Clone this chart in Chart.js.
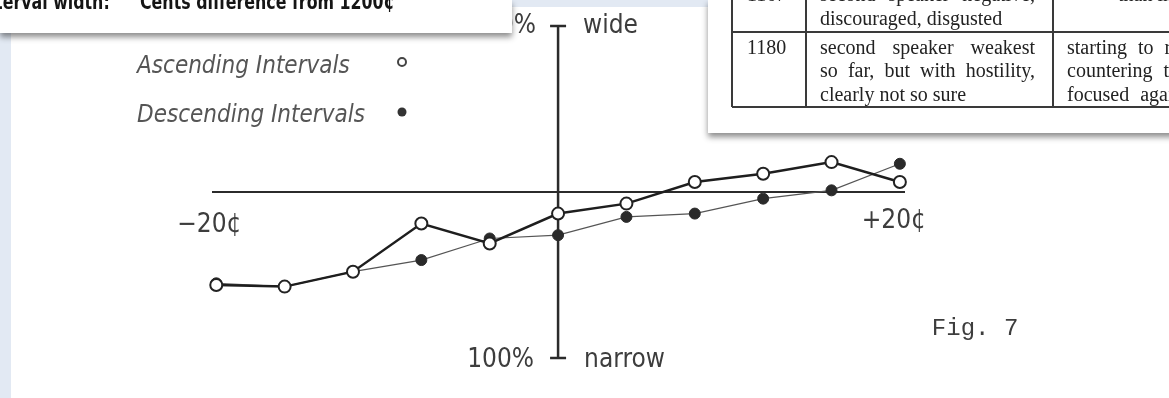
<!DOCTYPE html>
<html lang="en">
<head>
<meta charset="UTF-8">
<title>Fig. 7</title>
<script src="https://cdn.jsdelivr.net/npm/chart.js"></script>
<style>
  html, body { margin: 0; padding: 0; }
  body { width: 1169px; height: 398px; position: relative; overflow: hidden; background: #e2e9f3; }
  #papel { position: absolute; left: 11px; top: 7px; right: 0; bottom: 0; background: #fff; }
  #myChart { position: absolute; left: 0; top: 0; }
  .caixa { position: absolute; background: #fff; box-shadow: 0 4px 6px rgba(0,0,0,0.45); z-index: 2; }
  .negrito { position: absolute; z-index: 3; top: -10.5px; font-family: "Liberation Sans Narrow", "DejaVu Sans Condensed", sans-serif;
    font-weight: bold; font-size: 22px; line-height: 23px; color: #151515; white-space: nowrap; transform: scaleX(0.8); }
  .vl { position: absolute; z-index: 3; top: 0; height: 107px; width: 1.5px; background: #3a3a3a; }
  .hl { position: absolute; z-index: 3; left: 732px; width: 440px; height: 1.5px; background: #3a3a3a; }
  .cel { position: absolute; z-index: 3; font-family: "Liberation Serif", serif; font-size: 20px; line-height: 23.5px; color: #222; white-space: nowrap; }
  .just { text-align: justify; text-align-last: justify; }
</style>
</head>
<body>
  <div id="papel"></div>
  <canvas id="myChart" width="1169" height="398"></canvas>

  <!-- caixa de cima a esquerda -->
  <div class="caixa" style="left:0; top:0; width:512px; height:33px;"></div>
  <span class="negrito" style="right:1059px; transform-origin:right;">Interval width:</span>
  <span class="negrito" style="left:140px; transform-origin:left;">Cents difference from 1200¢</span>

  <!-- tabela de cima a direita -->
  <div class="caixa" style="left:708px; top:0; width:470px; height:133px;"></div>
  <div class="vl" style="left:731px;"></div>
  <div class="vl" style="left:805px;"></div>
  <div class="vl" style="left:1052px;"></div>
  <div class="hl" style="top:31px;"></div>
  <div class="hl" style="top:106px;"></div>

  <div class="cel" style="left:747px; top:-17px;">1167</div>
  <div class="cel" style="left:820px; top:-17px; width:215px;">
    <div class="just">second speaker negative,</div>
    <div>discouraged, disgusted</div>
  </div>
  <div class="cel" style="left:1118px; top:-17px;">than in</div>

  <div class="cel" style="left:747px; top:35.5px;">1180</div>
  <div class="cel" style="left:820px; top:35.5px; width:215px;">
    <div class="just">second speaker weakest</div>
    <div class="just">so far, but with hostility,</div>
    <div>clearly not so sure</div>
  </div>
  <div class="cel" style="left:1067px; top:35.5px; word-spacing:6px;">
    <div>starting to recover,</div>
    <div>countering the</div>
    <div>focused again</div>
  </div>

<script>
  // dados (cents x % largo/estreito)
  const cents = [-20, -16, -12, -8, -4, 0, 4, 8, 12, 16, 20];
  const ascendentes = [-56, -57, -48, -19, -31, -13, -7, 6, 11, 18, 6];
  const descendentes = [-55, -57, -48, -41, -28, -26, -15, -13, -4, 1, 17];
  const rotulosX = ['\u221220¢', '+20¢'];
  const rotuloTopo = ['100%', 'wide'];
  const rotuloBase = ['100%', 'narrow'];
  const nomes = ['Ascending Intervals', 'Descending Intervals'];

  function pontos(valores) {
    return cents.map(function (c, i) { return { x: c, y: valores[i] }; });
  }

  // desenha os eixos em cruz, os rotulos e a legenda
  const eixos = {
    id: 'eixos',
    beforeDatasetsDraw(chart) {
      const ctx = chart.ctx;
      const x = chart.scales.x, y = chart.scales.y;
      const x0 = x.getPixelForValue(0), y0 = y.getPixelForValue(0);
      const topo = y.getPixelForValue(100), base = y.getPixelForValue(-100);
      ctx.save();
      ctx.strokeStyle = '#2b2b2b';
      ctx.lineWidth = 2;
      ctx.beginPath();
      ctx.moveTo(x.left, y0); ctx.lineTo(x.right, y0);
      ctx.stroke();
      ctx.lineWidth = 2.5;
      ctx.beginPath();
      ctx.moveTo(x0, topo); ctx.lineTo(x0, base);
      ctx.moveTo(x0 - 8, topo); ctx.lineTo(x0 + 8, topo);
      ctx.moveTo(x0 - 8, base); ctx.lineTo(x0 + 8, base);
      ctx.stroke();

      ctx.fillStyle = '#3d3d3d';
      ctx.font = '26px "DejaVu Sans Condensed", sans-serif';
      ctx.textBaseline = 'alphabetic';
      ctx.textAlign = 'right';
      ctx.fillText(rotuloTopo[0], x0 - 22, topo + 7);
      ctx.fillText(rotuloBase[0], x0 - 24, base + 9);
      ctx.textAlign = 'left';
      ctx.fillText(rotuloTopo[1], x0 + 25, topo + 7);
      ctx.fillText(rotuloBase[1], x0 + 26, base + 9);
      ctx.textAlign = 'center';
      ctx.fillText(rotulosX[0], x.getPixelForValue(-20) - 7, y0 + 40);
      ctx.fillText(rotulosX[1], x.getPixelForValue(20) - 6, y0 + 36);

      ctx.font = '24px "Liberation Mono", monospace';
      ctx.textAlign = 'left';
      ctx.fillText('Fig. 7', x.getPixelForValue(20) + 32, y0 + 143);

      // legenda
      ctx.fillStyle = '#555';
      ctx.font = 'italic 24px "DejaVu Sans Condensed", sans-serif';
      ctx.fillText(chart.data.datasets[0].label, 137, 73);
      ctx.fillText(chart.data.datasets[1].label, 137, 122);
      ctx.lineWidth = 2;
      ctx.strokeStyle = '#444';
      ctx.beginPath();
      ctx.arc(402, 62, 4, 0, Math.PI * 2);
      ctx.stroke();
      ctx.fillStyle = '#333';
      ctx.beginPath();
      ctx.arc(402, 112, 4.5, 0, Math.PI * 2);
      ctx.fill();
      ctx.restore();
    }
  };

  const config = {
    type: 'line',
    data: {
      datasets: [
        {
          label: nomes[0],
          data: pontos(ascendentes),
          borderColor: '#1e1e1e',
          borderWidth: 2.5,
          pointRadius: 6,
          pointBackgroundColor: '#fff',
          pointBorderColor: '#222',
          pointBorderWidth: 2,
          tension: 0,
          clip: false
        },
        {
          label: nomes[1],
          data: pontos(descendentes),
          borderColor: '#555',
          borderWidth: 1.2,
          pointRadius: 5.5,
          pointBackgroundColor: '#2a2a2a',
          pointBorderColor: '#2a2a2a',
          pointBorderWidth: 1,
          tension: 0,
          clip: false
        }
      ]
    },
    options: {
      responsive: false,
      devicePixelRatio: 1,
      animation: false,
      layout: { padding: { left: 212, right: 264, top: 26, bottom: 40 } },
      scales: {
        x: { type: 'linear', min: -20.25, max: 20.3, display: false },
        y: { type: 'linear', min: -100, max: 100, display: false }
      },
      plugins: {
        legend: { display: false },
        tooltip: { enabled: false }
      }
    },
    plugins: [eixos]
  };

  var grafico = new Chart(document.getElementById('myChart'), config);
</script>
</body>
</html>
